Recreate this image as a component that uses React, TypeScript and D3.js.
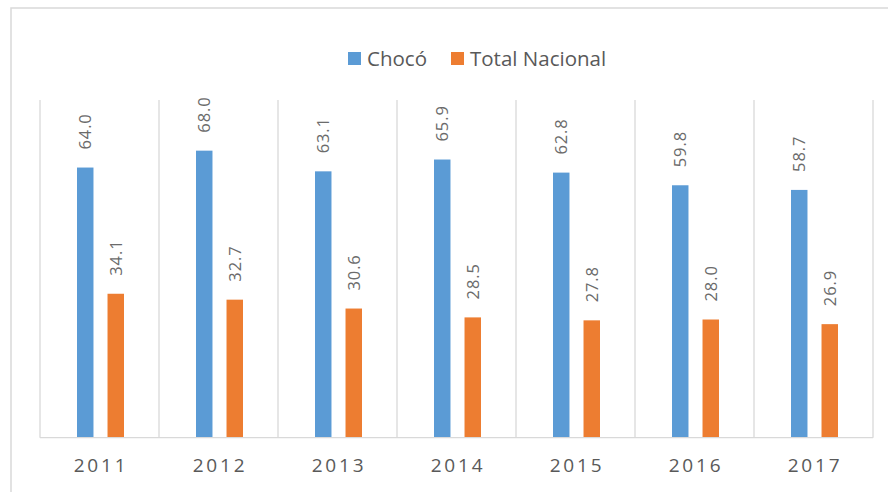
import React from "react";
import * as d3 from "d3";

const years = ["2011", "2012", "2013", "2014", "2015", "2016", "2017"];
const series = ["Chocó", "Total Nacional"];
const choco = [64.0, 68.0, 63.1, 65.9, 62.8, 59.8, 58.7];
const nacional = [34.1, 32.7, 30.6, 28.5, 27.8, 28.0, 26.9];
const colors = ["#5B9BD5", "#ED7D31"];

export default function App() {
  const W = 888, H = 492;
  const left = 40, right = 873, top = 100, bottom = 437.7;
  const x0 = d3.scaleBand<string>().domain(years).range([left, right]).padding(0);
  const x1 = d3.scaleBand<string>().domain(series).range([37, 84]).paddingInner(0.46).paddingOuter(0);
  const y = d3.scaleLinear().domain([0, 80]).range([bottom, top]);
  const values = [choco, nacional];
  const font = "'Open Sans', 'Liberation Sans', sans-serif";
  const txt = "#595959";
  return (
    <div style={{ position: "fixed", left: 0, top: 0 }}>
      <svg width={W} height={H} style={{ display: "block", fontFamily: font }}>
        <rect x={0} y={0} width={W} height={H} fill="#fff" />
        <rect x={11} y={8} width={1000} height={1000} fill="none" stroke="#D9D9D9" strokeWidth={1.5} />
        {years.map((yr) => (
          <line key={yr} x1={x0(yr)!} x2={x0(yr)!} y1={top} y2={bottom} stroke="#D9D9D9" strokeWidth={1.3} />
        ))}
        <line x1={right} x2={right} y1={top} y2={bottom} stroke="#D9D9D9" strokeWidth={1.3} />
        {series.map((s, si) =>
          years.map((yr, i) => {
            const v = values[si][i];
            const bx = x0(yr)! + x1(s)!;
            const bw = x1.bandwidth();
            const by = y(v);
            const cx = bx + bw / 2;
            const ly = by - 18;
            return (
              <g key={s + yr}>
                <rect x={bx} y={by} width={bw} height={bottom - by} fill={colors[si]} />
                <text
                  transform={`translate(${cx + 6},${ly}) rotate(-90)`}
                  fontSize={16.5}
                  fill="#6B6B6B"
                  letterSpacing={0.9}
                  textAnchor="start"
                >
                  {v.toFixed(1)}
                </text>
              </g>
            );
          })
        )}
        <line x1={left} x2={right} y1={bottom} y2={bottom} stroke="#D9D9D9" strokeWidth={1.3} />
        {years.map((yr) => (
          <text
            key={yr}
            x={x0(yr)! + x0.bandwidth() / 2 + 1.5}
            y={472}
            textAnchor="middle"
            fontSize={19}
            letterSpacing={2.8}
            fill={txt}
          >
            {yr}
          </text>
        ))}
        <rect x={348} y={52} width={13} height={13} fill={colors[0]} />
        <text x={367} y={65.5} fontSize={20.5} fill={txt}>{series[0]}</text>
        <rect x={451} y={52} width={13} height={13} fill={colors[1]} />
        <text x={470} y={65.5} fontSize={20.5} fill={txt}>{series[1]}</text>
      </svg>
    </div>
  );
}
